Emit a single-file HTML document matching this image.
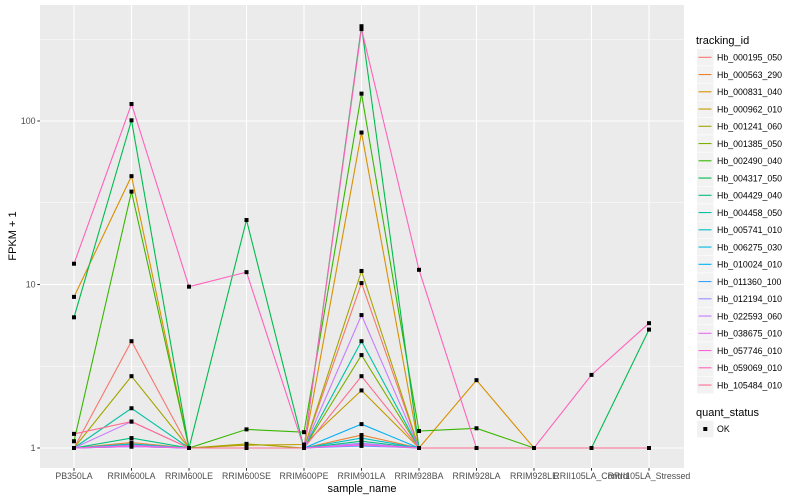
<!DOCTYPE html>
<html><head><meta charset="utf-8"><style>
body{margin:0;background:#fff;}
svg{display:block;font-family:"Liberation Sans",sans-serif;}
</style></head><body>
<svg id="chart" width="800" height="500" xmlns="http://www.w3.org/2000/svg"></svg>
<script>
const categories=["PB350LA","RRIM600LA","RRIM600LE","RRIM600SE","RRIM600PE","RRIM901LA","RRIM928BA","RRIM928LA","RRIM928LE","RRII105LA_Control","RRII105LA_Stressed"];
const seriesNames=["Hb_000195_050","Hb_000563_290","Hb_000831_040","Hb_000962_010","Hb_001241_060","Hb_001385_050","Hb_002490_040","Hb_004317_050","Hb_004429_040","Hb_004458_050","Hb_005741_010","Hb_006275_030","Hb_010024_010","Hb_011360_100","Hb_012194_010","Hb_022593_060","Hb_038675_010","Hb_057746_010","Hb_059069_010","Hb_105484_010"];
const seriesColors=["#F8766D","#EA8331","#D89000","#C09B00","#A3A500","#7CAE00","#39B600","#00BB4E","#00BF7D","#00C1A3","#00BFC4","#00BAE0","#00B0F6","#35A2FF","#9590FF","#C77CFF","#E76BF3","#FA62DB","#FF62BC","#FF6C91"];
const v0=[1,4.5,1,1,1,10.2,1,1,1,1,1];
const v1=[1,1.08,1,1,1,1.2,1,1,1,1,1];
const v2=[8.4,46,1,1,1,85,1,2.6,1,1,1];
const v3=[1,1.05,1,1.04,1.05,2.25,1,1,1,1,1];
const v4=[1,2.75,1,1.06,1,12.1,1,1,1,1,1];
const v5=[1,1.03,1,1,1,3.7,1,1,1,1,1];
const v6=[1.1,37,1,1.3,1.25,147,1.27,1.32,1,1,1];
const v7=[6.3,101,1,24.8,1,380,1,1,1,1,5.3];
const v8=[1,1.15,1,1,1,1.1,1,1,1,1,1];
const v9=[1,1.75,1,1,1,4.5,1,1,1,1,1];
const v10=[1,1.06,1,1,1,1.15,1,1,1,1,1];
const v11=[1,1.02,1,1,1,1.05,1,1,1,1,1];
const v12=[1,1.03,1,1,1,1.4,1,1,1,1,1];
const v13=[1,1.02,1,1,1,1.03,1,1,1,1,1];
const v14=[1,1.04,1,1,1,1.07,1,1,1,1,1];
const v15=[1,1.45,1,1,1,6.5,1,1,1,1,1];
const v16=[1,1.02,1,1,1,1.04,1,1,1,1,1];
const v17=[1,1.03,1,1,1,1.05,1,1,1,1,1];
const v18=[13.4,127,9.7,11.9,1,365,12.3,1,1,2.8,5.8];
const v19=[1.22,1.45,1,1,1,2.75,1,1,1,1,1];
const seriesValues=[v0,v1,v2,v3,v4,v5,v6,v7,v8,v9,v10,v11,v12,v13,v14,v15,v16,v17,v18,v19];
const yTicks=[1,10,100];
const yTickLabels=["1","10","100"];

const NS="http://www.w3.org/2000/svg";
const svg=document.getElementById('chart');
const P={l:40,r:684,t:5,b:468};
function xs(i){return 74+i*57.5;}
function ys(v){return 448-Math.log10(v)*163.5;}
function mk(tag,attrs,parent){const e=document.createElementNS(NS,tag);for(const k in attrs)e.setAttribute(k,attrs[k]);(parent||svg).appendChild(e);return e;}

const panel=mk('rect',{x:P.l,y:P.t,width:P.r-P.l,height:P.b-P.t,fill:'#EBEBEB'});


// minor gridlines
[0.5,1.5,2.5].forEach(e=>{const y=ys(Math.pow(10,e));if(y>P.t)mk('line',{x1:P.l,x2:P.r,y1:y,y2:y,stroke:'#fff','stroke-width':0.5});});
yTicks.forEach((t,i)=>{const y=ys(t);
 const g=mk('line',{x1:P.l,x2:P.r,y1:y,y2:y,stroke:'#fff','stroke-width':1.1});
 
 
 mk('line',{x1:P.l-2.7,x2:P.l,y1:y,y2:y,stroke:'#333','stroke-width':1});
 const tl=mk('text',{x:P.l-4.5,y:y+3.2,'text-anchor':'end','font-size':'8.8',fill:'#4D4D4D'});tl.textContent=yTickLabels[i];
 
 
});
categories.forEach((c,i)=>{const x=xs(i);
 mk('line',{x1:x,x2:x,y1:P.t,y2:P.b,stroke:'#fff','stroke-width':1.1});
 mk('line',{x1:x,x2:x,y1:P.b,y2:P.b+2.7,stroke:'#333','stroke-width':1});
 const tl=mk('text',{x:x,y:P.b+11,'text-anchor':'middle','font-size':'8.8',fill:'#4D4D4D'});tl.textContent=c;
 
 
});
seriesValues.forEach((vals,s)=>{
 const pts=vals.map((v,i)=>xs(i).toFixed(1)+','+ys(v).toFixed(1)).join(' ');
 const pl=mk('polyline',{points:pts,fill:'none',stroke:seriesColors[s],'stroke-width':1.1});
 
 
});
seriesValues.forEach((vals,s)=>{
 vals.forEach((v,i)=>{
  const r=mk('rect',{x:xs(i)-2,y:ys(v)-2,width:4,height:4,fill:'#000'});
  
  
 });
});
const xt=mk('text',{x:362,y:492,'text-anchor':'middle','font-size':'11',fill:'#000'});xt.textContent='sample_name';


const yt=mk('text',{x:0,y:0,'text-anchor':'middle','font-size':'11',fill:'#000',transform:'translate(16,236) rotate(-90)'});yt.textContent='FPKM + 1';


// legend
const lt=mk('text',{x:696,y:44,'font-size':'11',fill:'#000'});lt.textContent='tracking_id';


seriesNames.forEach((n,s)=>{const cy=57.3+s*17.25;
 const g=mk('g',{});
 
 
 mk('rect',{x:697,y:cy-8.3,width:16.6,height:16.6,fill:'#F2F2F2'},g);
 mk('line',{x1:698.5,x2:711.5,y1:cy,y2:cy,stroke:seriesColors[s],'stroke-width':1.1},g);
 const t=mk('text',{x:717,y:cy+3.2,'font-size':'8.8',fill:'#000'},g);t.textContent=n;
});
const qt=mk('text',{x:696,y:416,'font-size':'11',fill:'#000'});qt.textContent='quant_status';


const qg=mk('g',{});


mk('rect',{x:697,y:420.7,width:16.6,height:16.6,fill:'#F2F2F2'},qg);
mk('rect',{x:703.3,y:427,width:4,height:4,fill:'#000'},qg);
const ok=mk('text',{x:717,y:432.2,'font-size':'8.8',fill:'#000'},qg);ok.textContent='OK';
</script>
</body></html>
